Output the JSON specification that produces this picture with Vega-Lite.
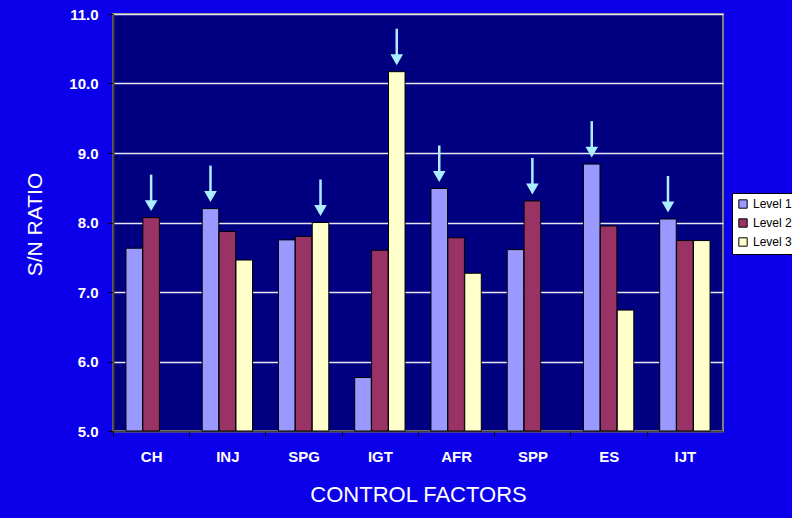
{
  "$schema": "https://vega.github.io/schema/vega-lite/v6.json",
  "width": 610,
  "height": 417,
  "autosize": {"type": "none"},
  "padding": {"left": 113, "top": 14, "right": 69, "bottom": 87},
  "background": "#0c00ea",
  "config": {
    "font": "Liberation Sans",
    "view": {"fill": "#000080", "stroke": "#808080", "strokeWidth": 2}
  },
  "data": {
    "values": [
      {"factor": "CH", "level": "Level 1", "value": 7.63, "best": false},
      {"factor": "CH", "level": "Level 2", "value": 8.07, "best": true},
      {"factor": "INJ", "level": "Level 1", "value": 8.20, "best": true},
      {"factor": "INJ", "level": "Level 2", "value": 7.87, "best": false},
      {"factor": "INJ", "level": "Level 3", "value": 7.46, "best": false},
      {"factor": "SPG", "level": "Level 1", "value": 7.75, "best": false},
      {"factor": "SPG", "level": "Level 2", "value": 7.80, "best": false},
      {"factor": "SPG", "level": "Level 3", "value": 8.00, "best": true},
      {"factor": "IGT", "level": "Level 1", "value": 5.77, "best": false},
      {"factor": "IGT", "level": "Level 2", "value": 7.60, "best": false},
      {"factor": "IGT", "level": "Level 3", "value": 10.17, "best": true},
      {"factor": "AFR", "level": "Level 1", "value": 8.49, "best": true},
      {"factor": "AFR", "level": "Level 2", "value": 7.78, "best": false},
      {"factor": "AFR", "level": "Level 3", "value": 7.27, "best": false},
      {"factor": "SPP", "level": "Level 1", "value": 7.61, "best": false},
      {"factor": "SPP", "level": "Level 2", "value": 8.31, "best": true},
      {"factor": "ES", "level": "Level 1", "value": 8.84, "best": true},
      {"factor": "ES", "level": "Level 2", "value": 7.95, "best": false},
      {"factor": "ES", "level": "Level 3", "value": 6.74, "best": false},
      {"factor": "IJT", "level": "Level 1", "value": 8.05, "best": true},
      {"factor": "IJT", "level": "Level 2", "value": 7.74, "best": false},
      {"factor": "IJT", "level": "Level 3", "value": 7.74, "best": false}
    ]
  },
  "encoding": {
    "x": {
      "field": "factor",
      "type": "nominal",
      "sort": ["CH", "INJ", "SPG", "IGT", "AFR", "SPP", "ES", "IJT"],
      "scale": {"paddingInner": 0.34, "paddingOuter": 0.17},
      "axis": {
        "title": "CONTROL FACTORS",
        "labelAngle": 0,
        "labelColor": "white",
        "labelFontWeight": "bold",
        "labelFontSize": 15,
        "labelPadding": 13,
        "bandPosition": 0,
        "tickOffset": -13,
        "labelOffset": 13,
        "tickSize": 5,
        "tickColor": "black",
        "domainColor": "#404040",
        "domainWidth": 2,
        "titleColor": "white",
        "titleFontSize": 22,
        "titleFontWeight": "normal",
        "titleY": 63,
        "titleX": 305,
        "titleAlign": "center",
        "titleBaseline": "middle"
      }
    },
    "xOffset": {
      "field": "level",
      "type": "nominal",
      "sort": ["Level 1", "Level 2", "Level 3"],
      "scale": {"paddingInner": 0.02}
    }
  },
  "layer": [
    {
      "mark": {"type": "bar", "stroke": "black", "strokeWidth": 1, "opacity": 1},
      "encoding": {
        "y": {
          "field": "value",
          "type": "quantitative",
          "scale": {"domain": [5, 11], "zero": false, "nice": false},
          "axis": {
            "title": "S/N RATIO",
            "values": [5, 6, 7, 8, 9, 10, 11],
            "format": ".1f",
            "labelColor": "white",
            "labelFontWeight": "bold",
            "labelFontSize": 15,
            "labelPadding": 10,
            "tickColor": "black",
            "tickSize": 5,
            "gridColor": "#e6e6f5",
            "gridWidth": 1.5,
            "domainColor": "#404040",
            "domainWidth": 2,
            "titleColor": "white",
            "titleFontSize": 21,
            "titleFontWeight": "normal",
            "titleX": -78,
            "titleY": 210,
            "titleAlign": "center",
            "titleBaseline": "middle",
            "titleAngle": -90
          }
        },
        "y2": {"datum": 5},
        "color": {
          "field": "level",
          "type": "nominal",
          "scale": {"domain": ["Level 1", "Level 2", "Level 3"], "range": ["#9999ff", "#993366", "#ffffcc"]},
          "legend": {
            "orient": "none",
            "legendX": 619,
            "legendY": 179,
            "title": null,
            "fillColor": "white",
            "strokeColor": "black",
            "padding": 5,
            "symbolType": "square",
            "symbolSize": 70,
            "symbolStrokeColor": "black",
            "symbolStrokeWidth": 1,
            "symbolOpacity": 1,
            "labelColor": "black",
            "labelFontSize": 12,
            "rowPadding": 5
          }
        }
      }
    },
    {
      "transform": [{"filter": "datum.best"}],
      "mark": {"type": "rule", "color": "#aaeeff", "strokeWidth": 2.5, "yOffset": -16, "y2Offset": -43},
      "encoding": {
        "y": {"field": "value", "type": "quantitative"},
        "y2": {"field": "value"}
      }
    },
    {
      "transform": [{"filter": "datum.best"}],
      "mark": {"type": "point", "shape": "triangle-down", "filled": true, "size": 160, "color": "#aaeeff", "opacity": 1, "yOffset": -12},
      "encoding": {
        "y": {"field": "value", "type": "quantitative"}
      }
    }
  ]
}
